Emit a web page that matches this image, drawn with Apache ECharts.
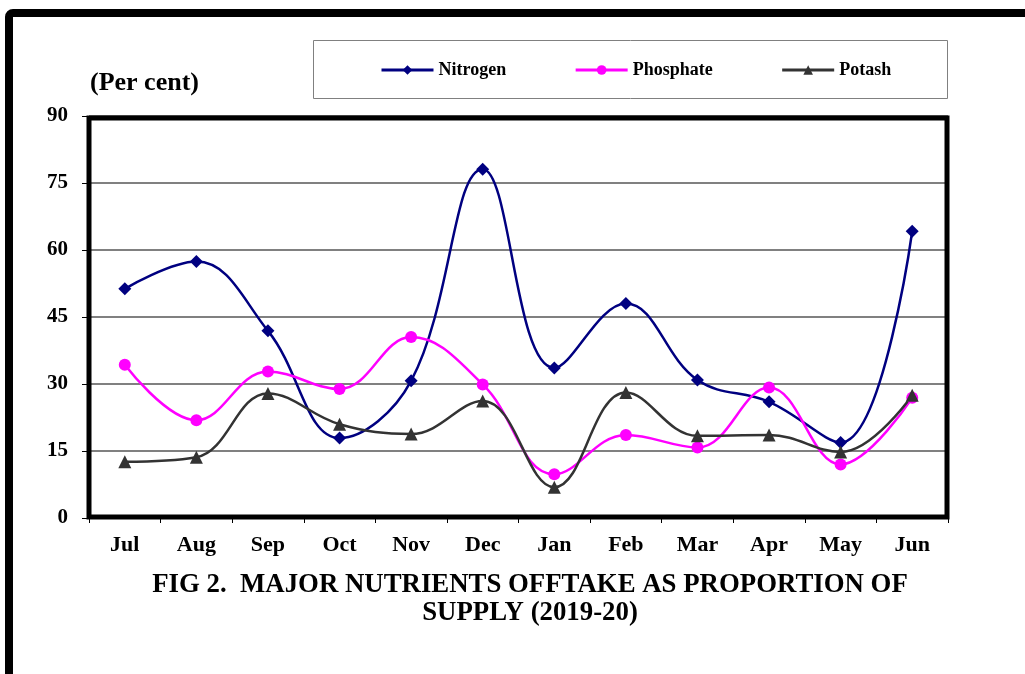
<!DOCTYPE html>
<html>
<head>
<meta charset="utf-8">
<script src="https://cdn.jsdelivr.net/npm/echarts@6/dist/echarts.min.js"></script>
<style>
html,body{margin:0;padding:0;background:#fff;}
#chart{width:1025px;height:674px;}
</style>
</head>
<body>
<div id="chart"></div>
<script>
var months = ['Jul','Aug','Sep','Oct','Nov','Dec','Jan','Feb','Mar','Apr','May','Jun'];
var nitrogen  = [51.3, 57.4, 41.9, 17.9, 30.7, 78.1, 33.6, 48.0, 30.9, 26.0, 16.9, 64.2];
var phosphate = [34.3, 21.9, 32.8, 28.9, 40.5, 29.9, 9.8, 18.6, 15.8, 29.2, 12.0, 26.9];
var potash    = [12.6, 13.6, 27.9, 21.0, 18.8, 26.2, 6.9, 28.1, 18.4, 18.6, 14.8, 27.5];
var yTicks = {min: 0, max: 90, interval: 15};

var FONT = '"Liberation Serif", "Times New Roman", serif';
var chart = echarts.init(document.getElementById('chart'));

function lineSeries(name, data, color, symbol, size) {
  return {
    name: name, type: 'line', data: data, smooth: 0.4,
    symbol: symbol, symbolSize: size,
    lineStyle: {color: color, width: 2.5},
    itemStyle: {color: color},
    emphasis: {disabled: true}
  };
}

chart.setOption({
  animation: false,
  backgroundColor: '#fff',
  grid: {left: 89, top: 116, width: 859, height: 402, containLabel: false},
  legend: {
    left: 375, top: 56,
    itemWidth: 52, itemHeight: 12, itemGap: 68,
    lineStyle: {width: 3},
    textStyle: {fontFamily: FONT, fontWeight: 'bold', fontSize: 18, color: '#000'},
    data: ['Nitrogen', 'Phosphate', 'Potash']
  },
  xAxis: {
    type: 'category', data: months, boundaryGap: true,
    axisLine: {show: false},
    axisTick: {show: true, length: 5, lineStyle: {color: '#000', width: 1}},
    axisLabel: {fontFamily: FONT, fontWeight: 'bold', fontSize: 22, color: '#000', margin: 16},
    splitLine: {show: false}
  },
  yAxis: {
    type: 'value', min: yTicks.min, max: yTicks.max, interval: yTicks.interval,
    axisLine: {show: false},
    axisTick: {show: true, length: 7, lineStyle: {color: '#000', width: 1}},
    axisLabel: {fontFamily: FONT, fontWeight: 'bold', fontSize: 21, color: '#000', margin: 21},
    splitLine: {show: true, lineStyle: {color: '#808080', width: 2}}
  },
  graphic: [
    {type: 'rect', z: 100, shape: {x: 9, y: 13, width: 1100, height: 800, r: 4},
     style: {fill: 'none', stroke: '#000', lineWidth: 8}},
    {type: 'rect', z: 100, shape: {x: 89, y: 118, width: 858, height: 399},
     style: {fill: 'none', stroke: '#000', lineWidth: 5}},
    {type: 'rect', z: -1, shape: {x: 313.5, y: 40.5, width: 634, height: 58},
     style: {fill: 'none', stroke: '#808080', lineWidth: 1}},
    {type: 'text', z: 100, left: 90, top: 70,
     style: {text: '(Per cent)', fontFamily: FONT, fontWeight: 'bold', fontSize: 26, fill: '#000'}},
    {type: 'text', z: 100, x: 530, y: 571,
     style: {text: 'FIG 2.  MAJOR NUTRIENTS OFFTAKE AS PROPORTION OF\nSUPPLY (2019-20)', align: 'center', verticalAlign: 'top',
       fontFamily: FONT, fontWeight: 'bold', fontSize: 26.8, lineHeight: 28, fill: '#000'}}
  ],
  series: [
    lineSeries('Nitrogen', nitrogen, '#000080', 'diamond', 13),
    lineSeries('Phosphate', phosphate, '#ff00ff', 'circle', 12),
    lineSeries('Potash', potash, '#333333', 'triangle', 13)
  ]
});
</script>
</body>
</html>
